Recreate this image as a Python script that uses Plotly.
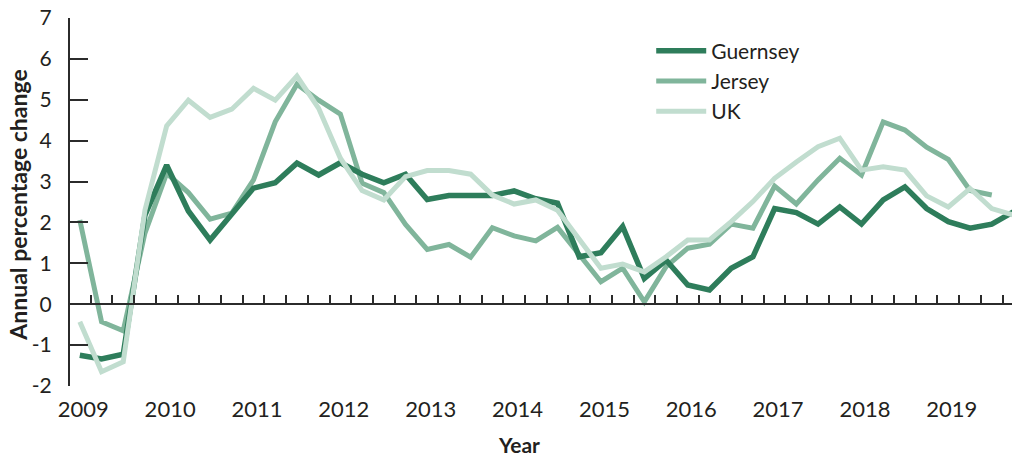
import plotly.graph_objects as go

# Quarterly data, 2009 Q1 .. 2019 Q4
start_year = 2009
guernsey = [-1.25, -1.34, -1.22, 2.18, 3.40, 2.28, 1.57, 2.18, 2.84, 2.97, 3.45, 3.16,
            3.46, 3.18, 2.97, 3.18, 2.56, 2.66, 2.66, 2.66, 2.77, 2.58, 2.47, 1.16,
            1.26, 1.90, 0.63, 1.08, 0.47, 0.35, 0.88, 1.16, 2.34, 2.24, 1.96, 2.38,
            1.96, 2.55, 2.87, 2.34, 2.02, 1.86, 1.96, 2.26]
jersey = [2.06, -0.43, -0.65, 1.74, 3.20, 2.73, 2.08, 2.23, 3.04, 4.46, 5.38, 4.99,
          4.65, 2.96, 2.73, 1.95, 1.34, 1.46, 1.15, 1.87, 1.67, 1.55, 1.88, 1.20,
          0.55, 0.88, 0.06, 0.92, 1.37, 1.47, 1.96, 1.86, 2.89, 2.45, 3.04, 3.57,
          3.16, 4.46, 4.26, 3.84, 3.54, 2.78, 2.67]
uk = [-0.43, -1.65, -1.41, 2.30, 4.36, 4.99, 4.57, 4.77, 5.28, 4.99, 5.58, 4.79,
      3.57, 2.78, 2.55, 3.12, 3.27, 3.27, 3.18, 2.67, 2.45, 2.55, 2.30, 1.57,
      0.88, 0.98, 0.79, 1.16, 1.57, 1.57, 2.02, 2.51, 3.08, 3.48, 3.85, 4.06,
      3.28, 3.36, 3.28, 2.65, 2.38, 2.83, 2.34, 2.18]
year_labels = [str(y) for y in range(2009, 2020)]
y_ticks = list(range(-2, 8))
y_tick_labels = [str(v) for v in y_ticks]  # plain hyphen minus as in the source


def qx(n):
    return [start_year + i * 0.25 for i in range(n)]


c_g = "#2e7d5b"
c_j = "#80b59b"
c_u = "#c1ddcf"
axis_col = "#2b2b2b"
text_col = "#231f20"
font_fam = "Lato, 'Open Sans', sans-serif"

fig = go.Figure()
fig.add_trace(go.Scatter(x=qx(len(uk)), y=uk, mode="lines", name="UK",
                         line=dict(color=c_u, width=5), xaxis="x2"))
fig.add_trace(go.Scatter(x=qx(len(jersey)), y=jersey, mode="lines", name="Jersey",
                         line=dict(color=c_j, width=5)))
fig.add_trace(go.Scatter(x=qx(len(guernsey)), y=guernsey, mode="lines", name="Guernsey",
                         line=dict(color=c_g, width=5.5)))

xr = [2008.887, 2019.733]
y_lo, y_hi = -2, 7
quarter_ticks = [start_year + 0.125 + 0.25 * k for k in range(44)]

fig.update_layout(
    width=1012, height=457,
    margin=dict(l=70, r=0, t=18, b=71, autoexpand=False),
    paper_bgcolor="white", plot_bgcolor="white",
    font=dict(family=font_fam, color=text_col, size=20),
    showlegend=True,
    legend=dict(x=0.617, y=0.966, xanchor="left", yanchor="top",
                traceorder="reversed", font=dict(size=21, color=text_col),
                bgcolor="rgba(0,0,0,0)", itemwidth=50, tracegroupgap=0),
    xaxis=dict(range=xr, showgrid=False, zeroline=False, showline=False,
               automargin=False,
               tickvals=[int(t) + 0.04 for t in year_labels], ticktext=year_labels,
               ticks="", tickfont=dict(size=22, color=text_col),
               ticklabelstandoff=8),
    xaxis2=dict(matches="x", overlaying="x", anchor="free", position=(0 - y_lo) / (y_hi - y_lo),
                side="bottom", showgrid=False, zeroline=False, showline=True,
                automargin=False,
                linecolor=axis_col, linewidth=2, ticks="inside", ticklen=8,
                tickwidth=1.5, tickcolor=axis_col, tickvals=quarter_ticks,
                showticklabels=False),
    yaxis=dict(range=[y_lo, y_hi], showgrid=False, zeroline=False, showline=True,
               automargin=False,
               linecolor=axis_col, linewidth=2, ticks="inside", ticklen=18,
               tickwidth=2, tickcolor=axis_col, tickvals=y_ticks, ticktext=y_tick_labels,
               tickfont=dict(size=21, color=text_col), ticklabelstandoff=12),
    annotations=[
        dict(text="<b>Year</b>", xref="paper", yref="paper", x=0.477, y=0,
             yshift=-58, xanchor="center", yanchor="middle", showarrow=False,
             font=dict(size=21, color=text_col)),
        dict(text="<b>Annual percentage change</b>", xref="paper", yref="paper",
             x=0, xshift=-52, y=0.49, xanchor="center", yanchor="middle",
             textangle=-90, showarrow=False, font=dict(size=23, color=text_col)),
    ],
)

fig.write_html("out.html", config={"displayModeBar": False},
               post_script="document.body.style.margin='0';document.body.style.overflow='hidden';")
